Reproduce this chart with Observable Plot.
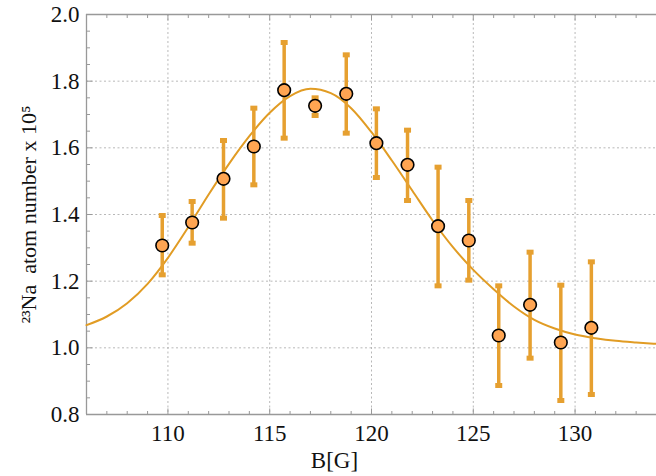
<!DOCTYPE html>
<html>
<head>
<meta charset="utf-8">
<script src="https://cdn.jsdelivr.net/npm/d3@7"></script>
<script src="https://cdn.jsdelivr.net/npm/@observablehq/plot@0.6"></script>
<style>
  html, body { margin: 0; padding: 0; background: #fff; }
  svg { display: block; }
  svg text { font-family: "Liberation Serif", "Times New Roman", serif; }
</style>
</head>
<body>
<div id="chart"></div>
<script>
// Measured points
const bField  = [109.72, 111.19, 112.73, 114.22, 115.71, 117.23, 118.76, 120.24, 121.77, 123.27, 124.78, 126.25, 127.79, 129.30, 130.80];
const atoms   = [1.307, 1.376, 1.507, 1.604, 1.773, 1.726, 1.762, 1.614, 1.549, 1.365, 1.322, 1.037, 1.129, 1.016, 1.060];
const errLow  = [1.219, 1.314, 1.389, 1.489, 1.629, 1.697, 1.644, 1.511, 1.442, 1.186, 1.203, 0.887, 0.969, 0.842, 0.860];
const errHigh = [1.397, 1.439, 1.622, 1.719, 1.916, 1.750, 1.879, 1.717, 1.653, 1.542, 1.442, 1.186, 1.287, 1.188, 1.258];

// Fit curve
const fitB = [106, 107, 108, 109, 110, 111, 112, 113, 114, 115, 116, 117, 118, 119, 120, 121, 122, 123, 124, 125, 126, 127, 128, 129, 130, 131, 132, 133, 134];
const fitN = [1.068, 1.094, 1.134, 1.192, 1.270, 1.362, 1.460, 1.552, 1.635, 1.705, 1.755, 1.777, 1.764, 1.719, 1.647, 1.562, 1.472, 1.382, 1.302, 1.234, 1.176, 1.124, 1.084, 1.058, 1.040, 1.029, 1.021, 1.016, 1.012];

// Axes
const xDomain = [106, 134];
const yDomain = [0.8, 2.0];
const xMajor = [110, 115, 120, 125, 130];
const xMinor = [106,107,108,109,111,112,113,114,116,117,118,119,121,122,123,124,126,127,128,129,131,132,133];
const yMajor = [0.8, 1.0, 1.2, 1.4, 1.6, 1.8, 2.0];
const yMajorLabels = ["0.8", "1.0", "1.2", "1.4", "1.6", "1.8", "2.0"];
const yMinor = [0.85, 0.9, 0.95, 1.05, 1.1, 1.15, 1.25, 1.3, 1.35, 1.45, 1.5, 1.55, 1.65, 1.7, 1.75, 1.85, 1.9, 1.95];
const xTitle = "B[G]";
const yTitle = "²³Na  atom number x 10⁵";

const points = bField.map((b, i) => ({b, n: atoms[i], lo: errLow[i], hi: errHigh[i]}));
const fit = fitB.map((b, i) => ({b, n: fitN[i]}));
const yTicks = yMajor.map((v, i) => ({v, label: yMajorLabels[i]}));

const lineColor = "#E19C24";
const barColor = "#E6A030";
const frameColor = "#999";
const font = "Liberation Serif";
const fs = 23;

function tickSymbol(dx, dy) {
  return { draw(ctx) { ctx.moveTo(0, 0); ctx.lineTo(dx, dy); } };
}
const capSymbol = { draw(ctx) { ctx.rect(-3.5, -2.5, 7, 5); } };

const chart = Plot.plot({
  width: 656,
  height: 476,
  marginLeft: 86,
  marginRight: 0,
  marginTop: 14,
  marginBottom: 62,
  x: {domain: xDomain, axis: null},
  y: {domain: yDomain, axis: null},
  style: {background: "white"},
  marks: [
    // grid
    Plot.ruleX(xMajor, {stroke: "#b8b8b8", strokeWidth: 1, strokeDasharray: "2,2.5"}),
    Plot.ruleY(yMajor, {stroke: "#b8b8b8", strokeWidth: 1, strokeDasharray: "2,2.5"}),
    // frame
    Plot.ruleX([xDomain[0]], {stroke: frameColor, strokeWidth: 1.3}),
    Plot.ruleY(yDomain, {stroke: frameColor, strokeWidth: 1.3}),
    // ticks (inward)
    Plot.dot(xMajor, {x: d => d, frameAnchor: "bottom", symbol: tickSymbol(0, -6), fill: "none", stroke: frameColor, strokeWidth: 1}),
    Plot.dot(xMinor, {x: d => d, frameAnchor: "bottom", symbol: tickSymbol(0, -3.5), fill: "none", stroke: frameColor, strokeWidth: 1}),
    Plot.dot(xMajor, {x: d => d, frameAnchor: "top", symbol: tickSymbol(0, 6), fill: "none", stroke: frameColor, strokeWidth: 1}),
    Plot.dot(xMinor, {x: d => d, frameAnchor: "top", symbol: tickSymbol(0, 3.5), fill: "none", stroke: frameColor, strokeWidth: 1}),
    Plot.dot(yMajor, {y: d => d, frameAnchor: "left", symbol: tickSymbol(6, 0), fill: "none", stroke: frameColor, strokeWidth: 1}),
    Plot.dot(yMinor, {y: d => d, frameAnchor: "left", symbol: tickSymbol(3.5, 0), fill: "none", stroke: frameColor, strokeWidth: 1}),
    // tick labels
    Plot.text(xMajor, {x: d => d, frameAnchor: "bottom", lineAnchor: "middle", textAnchor: "middle", dy: 19, text: d => String(d), fontSize: fs, fontFamily: font, fill: "#111"}),
    Plot.text(yTicks, {y: "v", frameAnchor: "left", lineAnchor: "middle", textAnchor: "end", dx: -7, text: "label", fontSize: fs, fontFamily: font, fill: "#111"}),
    // axis labels
    Plot.text([xTitle], {frameAnchor: "bottom", lineAnchor: "middle", textAnchor: "middle", dx: -37, dy: 46, text: d => d, fontSize: fs, fontFamily: font, fill: "#111"}),
    Plot.text([yTitle], {frameAnchor: "left", lineAnchor: "middle", textAnchor: "middle", dx: -58, rotate: -90, text: d => d, fontSize: fs - 1, fontFamily: font, fill: "#111"}),
    // fit curve
    Plot.line(fit, {x: "b", y: "n", stroke: lineColor, strokeWidth: 2, curve: "monotone-x"}),
    // error bars
    Plot.ruleX(points, {x: "b", y1: "lo", y2: "hi", stroke: barColor, strokeWidth: 3.5}),
    Plot.dot(points, {x: "b", y: "lo", symbol: capSymbol, fill: barColor, stroke: "none"}),
    Plot.dot(points, {x: "b", y: "hi", symbol: capSymbol, fill: barColor, stroke: "none"}),
    // points
    Plot.dot(points, {x: "b", y: "n", r: 6.3, fill: "#FFA552", stroke: "#000", strokeWidth: 1.6})
  ]
});

document.getElementById("chart").appendChild(chart);
</script>
</body>
</html>
